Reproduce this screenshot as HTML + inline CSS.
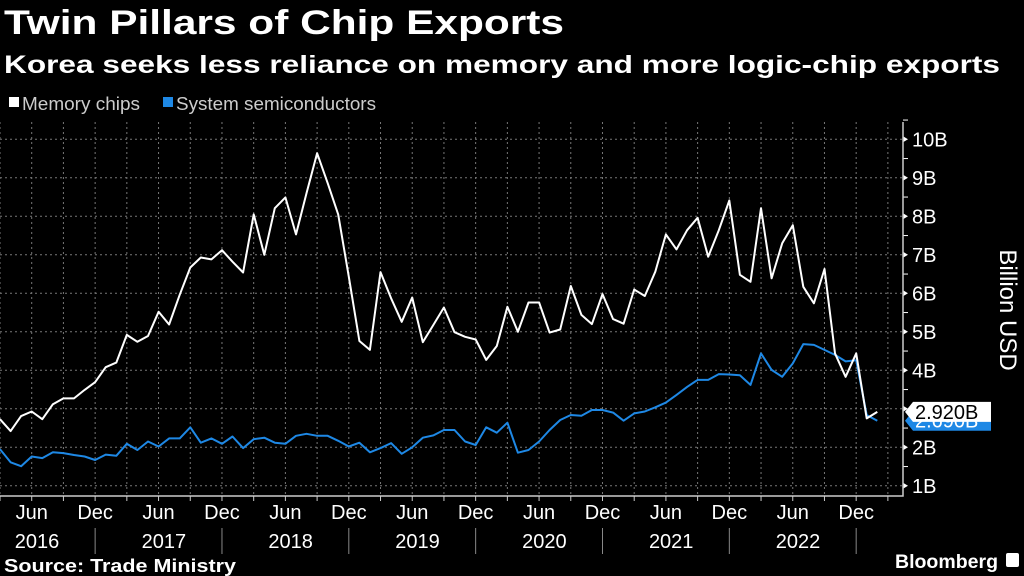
<!DOCTYPE html>
<html><head><meta charset="utf-8"><style>
html,body{margin:0;padding:0;background:#000;width:1024px;height:576px;overflow:hidden}
svg{display:block;font-family:"Liberation Sans",sans-serif}
</style></head><body>
<svg id="c" width="1024" height="576" viewBox="0 0 1024 576">
<text x="4" y="34" fill="#fff" font-size="34" font-weight="bold" textLength="560" lengthAdjust="spacingAndGlyphs">Twin Pillars of Chip Exports</text>
<text x="4" y="73" fill="#fff" font-size="25" font-weight="bold" textLength="996" lengthAdjust="spacingAndGlyphs">Korea seeks less reliance on memory and more logic-chip exports</text>
<g>
<rect x="9" y="97" width="10" height="10" fill="#fff"/>
<text x="22" y="110" fill="#ccc" font-size="18" textLength="118" lengthAdjust="spacingAndGlyphs">Memory chips</text>
<rect x="163" y="97" width="10" height="10" fill="#1e88e5"/>
<text x="176" y="110" fill="#ccc" font-size="18" textLength="200" lengthAdjust="spacingAndGlyphs">System semiconductors</text>
</g>
<g id="grid"></g>
<g id="axes"></g>
<g id="series"></g>
<g id="labels"></g>
<text transform="translate(1000,310) rotate(90)" fill="#fff" font-size="24" text-anchor="middle">Billion USD</text>
<text x="4" y="572" fill="#fff" font-size="18" font-weight="bold" textLength="232" lengthAdjust="spacingAndGlyphs">Source: Trade Ministry</text>
<text x="895" y="568" fill="#fff" font-size="19" font-weight="bold" textLength="103" lengthAdjust="spacingAndGlyphs">Bloomberg</text>
<rect x="1006" y="553" width="13" height="14" rx="2" fill="#fff"/>
</svg>
<script>
// data: monthly from Mar 2016 to Feb 2023
const startYear = 2016, startMonth = 3;
const memory = [2.73,2.42,2.81,2.93,2.73,3.12,3.27,3.27,3.49,3.69,
4.08,4.20,4.92,4.74,4.89,5.52,5.19,5.96,6.67,6.93,6.88,7.12,
6.82,6.54,8.05,7.0,8.21,8.49,7.53,8.6,9.64,8.86,8.05,6.43,
4.76,4.53,6.55,5.87,5.26,5.89,4.73,5.18,5.63,4.99,4.87,4.80,
4.27,4.63,5.65,5.0,5.76,5.76,4.98,5.06,6.19,5.44,5.20,5.98,
5.33,5.21,6.1,5.93,6.56,7.53,7.14,7.64,7.96,6.95,7.64,8.41,
6.48,6.30,8.21,6.39,7.30,7.77,6.17,5.74,6.63,4.44,3.83,4.44,
2.75,2.92];
const system = [1.95,1.61,1.51,1.76,1.72,1.87,1.85,1.80,1.76,1.67,
1.81,1.78,2.09,1.93,2.15,2.02,2.23,2.23,2.52,2.12,2.23,2.09,
2.28,1.98,2.21,2.25,2.12,2.09,2.30,2.35,2.30,2.30,2.17,2.02,
2.12,1.87,1.98,2.11,1.83,2.0,2.25,2.31,2.45,2.45,2.15,2.06,
2.52,2.38,2.64,1.86,1.93,2.15,2.45,2.71,2.84,2.82,2.97,2.97,
2.90,2.69,2.88,2.93,3.04,3.16,3.36,3.57,3.75,3.75,3.90,3.89,
3.87,3.62,4.44,4.01,3.83,4.18,4.68,4.66,4.53,4.40,4.23,4.26,
2.84,2.69];
const yTicks = [1,2,3,4,5,6,7,8,9,10];
const yTickLabels = ["1B","2B","","4B","5B","6B","7B","8B","9B","10B"];
const years = [2016,2017,2018,2019,2020,2021,2022];
const lastLabels = ["2.920B","2.690B"];

const NS="http://www.w3.org/2000/svg";
const X0=0, MW=10.57, PR=903, PB=496, PT=122;
const xs=i=>X0+i*MW;
const ys=v=>139.3+(10-v)*38.5;
function mk(tag,attrs,parent){const e=document.createElementNS(NS,tag);for(const k in attrs)e.setAttribute(k,attrs[k]);parent.appendChild(e);return e;}
const grid=document.getElementById('grid'),axes=document.getElementById('axes'),series=document.getElementById('series'),labels=document.getElementById('labels');

yTicks.forEach((t,i)=>{
  const l=mk('line',{x1:0,x2:PR,y1:ys(t),y2:ys(t),stroke:'#777','stroke-width':1,'stroke-dasharray':'2,3'},grid);
  
  
  const tk=mk('path',{d:`M${PR} ${ys(t)-3}L${PR+5} ${ys(t)}L${PR} ${ys(t)+3}Z`,fill:'#fff'},axes);
  
  
  const mt=mk('line',{x1:PR,x2:PR+5,y1:ys(t+0.5),y2:ys(t+0.5),stroke:'#fff'},axes);
  
  
  if(yTickLabels[i]){
    const tx=mk('text',{x:PR+9,y:ys(t)+7,fill:'#fff','font-size':20},axes);
    tx.textContent=yTickLabels[i];
    
    
  }
});
// vertical grid every 3 months
for(let i=0;i<memory.length+1;i++){
  const m=(startMonth-1+i)%12+1;
  if(m%3===0){
    const x=xs(i);
    const g=mk('line',{x1:x,x2:x,y1:PT,y2:PB,stroke:'#777','stroke-width':1,'stroke-dasharray':'2,3'},grid);
    
    
    const tk=mk('line',{x1:x,x2:x,y1:PB,y2:PB+5,stroke:'#ccc'},axes);
    
    
    if(m===6||m===12){
      const tx=mk('text',{x:x,y:PB+23,fill:'#fff','font-size':20,'text-anchor':'middle'},axes);
      tx.textContent=m===6?'Jun':'Dec';
      
      
    }
    if(m===12){
      const s=mk('line',{x1:x,x2:x,y1:PB+32,y2:PB+58,stroke:'#888'},axes);
      
      
    }
  }
}
years.forEach(y=>{
  const i=(y-startYear)*12+(7-startMonth)-0.5;
  const tx=mk('text',{x:xs(i),y:PB+52,fill:'#fff','font-size':20,'text-anchor':'middle'},axes);
  tx.textContent=String(y);
  
  
});
const ax=mk('path',{d:`M${PR} ${PT}L${PR} ${PB}L0 ${PB}`,stroke:'#ccc',fill:'none','stroke-width':1.5},axes);



function line(data,color,name){
  const d=data.map((v,i)=>(i?'L':'M')+xs(i).toFixed(1)+' '+ys(v).toFixed(1)).join('');
  const p=mk('path',{d:d,stroke:color,fill:'none','stroke-width':2,'stroke-linejoin':'round'},series);
  
  
}
line(system,'#1e88e5','system-semiconductors-line');
line(memory,'#fff','memory-chips-line');

// last value labels
function tag(v,txt,bg,fg,name){
  const y=ys(v);
  const g=mk('g',{},labels);
  
  
  mk('path',{d:`M${PR+2} ${y}L${PR+10} ${y-10}L${PR+88} ${y-10}L${PR+88} ${y+10}L${PR+10} ${y+10}Z`,fill:bg},g);
  const t=mk('text',{x:PR+12,y:y+7,fill:fg,'font-size':20},g);
  t.textContent=txt;
}
tag(system[system.length-1],lastLabels[1],'#1e88e5','#fff','last-value-system');
tag(memory[memory.length-1],lastLabels[0],'#fff','#000','last-value-memory');
</script>
</body></html>
